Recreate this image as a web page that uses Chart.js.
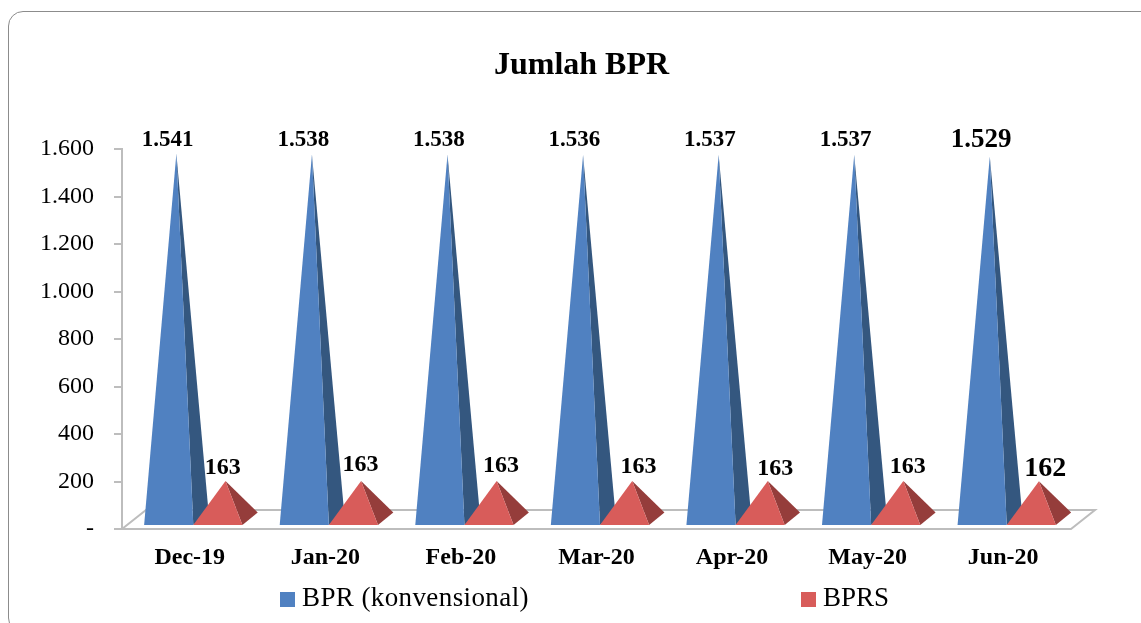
<!DOCTYPE html>
<html>
<head>
<meta charset="utf-8">
<title>Jumlah BPR</title>
<script src="https://cdn.jsdelivr.net/npm/chart.js@4/dist/chart.umd.min.js"></script>
<style>
    html, body { margin: 0; padding: 0; background: #fff; overflow: hidden; }
    #wrap { position: relative; width: 1141px; height: 623px; overflow: hidden; }
    #frame {
        position: absolute; left: 8px; top: 11px; width: 1200px; height: 622px;
        border: 1.5px solid #8c8c8c; border-radius: 15px; box-sizing: border-box;
    }
    canvas { position: absolute; left: 0; top: 0; }
</style>
</head>
<body>
<div id="wrap">
    <div id="frame"></div>
    <canvas id="bprChart" width="1141" height="623"></canvas>
</div>
<script>
// Datos
const categories = ['Dec-19', 'Jan-20', 'Feb-20', 'Mar-20', 'Apr-20', 'May-20', 'Jun-20'];
const bprValues = [1541, 1538, 1538, 1536, 1537, 1537, 1529];
const bprsValues = [163, 163, 163, 163, 163, 163, 162];
const yTicks = [0, 200, 400, 600, 800, 1000, 1200, 1400, 1600];

// Etiquetas de BPRS movidas a mano en el original
const bprsLabelShiftX = [5, 7, 12, 14, 15, 12, 14];
const bprsLabelShiftY = [0, -3, -2, -1, 1, -1, 0];

const FONT = '"Liberation Serif", serif';
const formatNumber = v => v.toLocaleString('de-DE');

// Profundidad de la base de la pirámide
const DEPTH_X = 15.3, DEPTH_Y = 12.5, SHIFT_X = 3.5, BASE_LIFT = 3;

function polygon(ctx, points, color) {
    ctx.fillStyle = color;
    ctx.beginPath();
    points.forEach((p, i) => i ? ctx.lineTo(p[0], p[1]) : ctx.moveTo(p[0], p[1]));
    ctx.closePath();
    ctx.fill();
}

const pyramidPlugin = {
    id: 'pyramid',
    // El título va centrado respecto al marco, no respecto al área
    afterLayout(chart) {
        chart.titleBlock.left += 46;
        chart.titleBlock.right += 46;
    },
    // Suelo 3D y pirámides en lugar de las barras normales
    beforeDatasetsDraw(chart) {
        const ctx = chart.ctx;
        const area = chart.chartArea;
        ctx.save();
        ctx.strokeStyle = '#bdbdbd';
        ctx.lineWidth = 2;
        ctx.beginPath();
        ctx.moveTo(area.left, area.bottom);
        ctx.lineTo(area.left + 24, area.bottom - 19);
        ctx.lineTo(area.right + 24, area.bottom - 19);
        ctx.lineTo(area.right, area.bottom);
        ctx.closePath();
        ctx.stroke();

        chart.data.datasets.forEach((ds, d) => {
            chart.getDatasetMeta(d).data.forEach(bar => {
                const half = bar.width / 2;
                const left = bar.x - half + SHIFT_X;
                const right = bar.x + half + SHIFT_X;
                const front = bar.base - BASE_LIFT;
                const apex = [(left + right) / 2 + DEPTH_X / 2, bar.y - BASE_LIFT - DEPTH_Y / 2];
                polygon(ctx, [apex, [right, front], [right + DEPTH_X, front - DEPTH_Y]], ds.sideColor);
                polygon(ctx, [apex, [left, front], [right, front]], ds.backgroundColor);
            });
        });
        ctx.restore();
        return false;
    },
    afterDraw(chart) {
        const ctx = chart.ctx;
        ctx.save();
        ctx.fillStyle = '#000';
        ctx.textAlign = 'center';
        ctx.textBaseline = 'middle';

        // Etiquetas de valores
        chart.getDatasetMeta(0).data.forEach((bar, i) => {
            ctx.font = 'bold ' + (i === 6 ? 27 : 23) + 'px ' + FONT;
            ctx.fillText(formatNumber(bprValues[i]), bar.x + SHIFT_X - 1, 140);
        });
        chart.getDatasetMeta(1).data.forEach((bar, i) => {
            ctx.font = 'bold ' + (i === 6 ? 28 : 24) + 'px ' + FONT;
            ctx.fillText(bprsValues[i], bar.x + SHIFT_X + bprsLabelShiftX[i], bar.y - 22 + bprsLabelShiftY[i]);
        });

        // Leyenda con mucho espacio entre entradas, como en el original
        const legendX = [280, 801];
        const textX = [302, 823];
        const textSpacing = ['0.4px', '0px'];
        ctx.textAlign = 'left';
        ctx.font = '27px ' + FONT;
        chart.data.datasets.forEach((ds, d) => {
            ctx.fillStyle = ds.backgroundColor;
            ctx.fillRect(legendX[d], 592, 15, 15);
            ctx.fillStyle = '#000';
            ctx.letterSpacing = textSpacing[d];
            ctx.fillText(ds.label, textX[d], 599);
        });
        ctx.restore();
    }
};

new Chart(document.getElementById('bprChart').getContext('2d'), {
    type: 'bar',
    data: {
        labels: categories,
        datasets: [
            { label: 'BPR (konvensional)', data: bprValues, backgroundColor: '#5081c1', sideColor: '#34577f', borderWidth: 0 },
            { label: 'BPRS', data: bprsValues, backgroundColor: '#d85c5a', sideColor: '#953d3b', borderWidth: 0 }
        ]
    },
    options: {
        responsive: false,
        animation: false,
        layout: { padding: { left: 0, right: 70, top: 0, bottom: 34 } },
        datasets: { bar: { categoryPercentage: 0.725, barPercentage: 1 } },
        plugins: {
            legend: { display: false },
            tooltip: { enabled: false },
            title: {
                display: true,
                text: 'Jumlah BPR',
                color: '#000',
                font: { family: FONT, size: 32, weight: 'bold' },
                padding: { top: 47, bottom: 63.6 }
            }
        },
        scales: {
            x: {
                grid: { display: false, drawTicks: false },
                border: { display: false },
                ticks: { color: '#000', padding: 14, maxRotation: 0, font: { family: FONT, size: 24, weight: 'bold' } },
                afterFit(scale) { scale.height = 60; }
            },
            y: {
                min: 0,
                max: 1600,
                afterBuildTicks(scale) { scale.ticks = yTicks.map(value => ({ value })); },
                grid: { drawOnChartArea: false, color: '#bdbdbd', lineWidth: 2, tickLength: 8 },
                border: { color: '#bdbdbd', width: 2 },
                ticks: {
                    color: '#000',
                    padding: 20,
                    font: { family: FONT, size: 24 },
                    callback: value => value === 0 ? '-' : formatNumber(value)
                },
                afterFit(scale) { scale.width = 122; }
            }
        }
    },
    plugins: [pyramidPlugin]
});
</script>
</body>
</html>
